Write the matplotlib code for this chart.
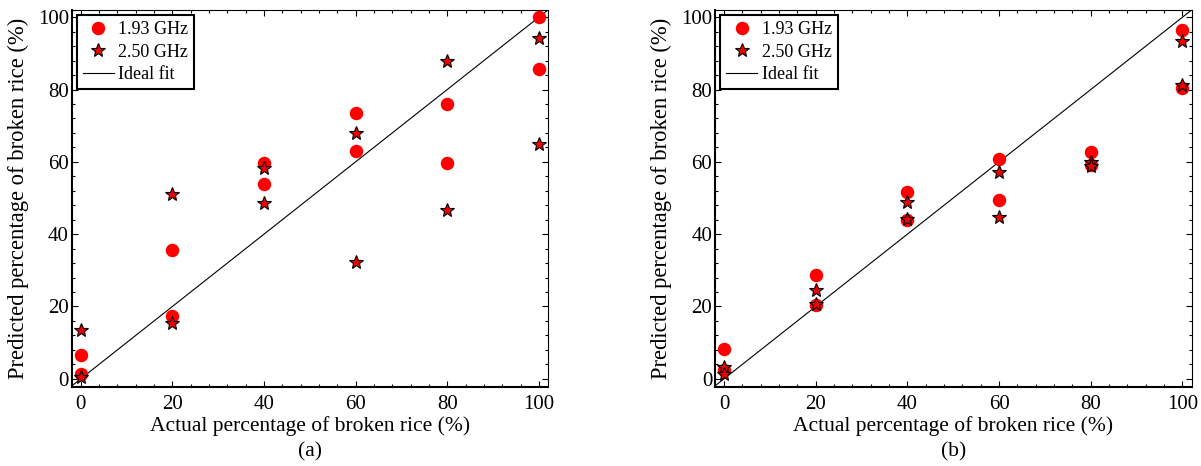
import numpy as np
import matplotlib
matplotlib.use("Agg")
import matplotlib.pyplot as plt
from matplotlib.ticker import MultipleLocator

plt.rcParams["font.family"] = ["Liberation Serif", "DejaVu Serif"]
plt.rcParams["mathtext.fontset"] = "stix"

# actual broken-rice levels, two samples per level
actual = [0, 0, 20, 20, 40, 40, 60, 60, 80, 80, 100, 100]

# panel (a)
pred_a_193 = [6.7, 1.2, 35.7, 17.3, 59.6, 53.9, 73.4, 63.0, 75.9, 59.7, 100.0, 85.7]
pred_a_250 = [13.6, 0.5, 51.2, 15.4, 58.2, 48.5, 67.9, 32.2, 87.9, 46.6, 94.2, 64.9]

# panel (b)
pred_b_193 = [8.3, 2.3, 28.6, 20.5, 51.7, 44.0, 60.8, 49.3, 62.8, 59.1, 96.5, 80.3]
pred_b_250 = [3.2, 1.2, 24.5, 20.6, 49.0, 44.3, 57.3, 44.6, 60.0, 58.9, 93.3, 81.3]

panels = [("(a)", pred_a_193, pred_a_250), ("(b)", pred_b_193, pred_b_250)]

fig = plt.figure(figsize=(12.01, 4.66), dpi=100)
axes = [fig.add_axes([0.0597, 0.1702, 0.3966, 0.8084]),
        fig.add_axes([0.5953, 0.1702, 0.3969, 0.8084])]

for ax, (tag, p193, p250) in zip(axes, panels):
    ax.plot(actual, p193, linestyle="none", marker="o", markersize=9.7,
            color="#ff0000", markeredgewidth=0, label="1.93 GHz", zorder=3)
    ax.plot(actual, p250, linestyle="none", marker="*", markersize=10,
            markerfacecolor="#ee0000", markeredgecolor="black",
            markeredgewidth=0.8, label="2.50 GHz", zorder=4)
    ax.plot([-5, 105], [-5, 105], color="black", linewidth=0.8,
            label="Ideal fit", zorder=2)

    ax.set_xlim(-2, 102)
    ax.set_ylim(-2.2, 102)
    ax.xaxis.set_major_locator(MultipleLocator(20))
    ax.yaxis.set_major_locator(MultipleLocator(20))
    ax.xaxis.set_minor_locator(MultipleLocator(4))
    ax.yaxis.set_minor_locator(MultipleLocator(4))
    ax.tick_params(which="both", direction="in", top=True, right=True,
                   labelsize=15, width=0.8)
    ax.tick_params(which="major", length=4.5)
    ax.tick_params(which="minor", length=2.2)
    ax.tick_params(axis="y", pad=2)
    ax.tick_params(axis="x", pad=6)
    for side in ["bottom", "left"]:
        ax.spines[side].set_linewidth(1.5)
    for side in ["top", "right"]:
        ax.spines[side].set_linewidth(0.8)

    ax.set_xlabel("Actual percentage of broken rice (%)", fontsize=15.5)
    ax.set_ylabel("Predicted percentage of broken rice (%)", fontsize=16.3)
    ax.xaxis.set_label_coords(0.5, -0.078)
    ax.yaxis.set_label_coords(-0.09, 0.5)
    ax.text(0.5, -0.148, tag, transform=ax.transAxes, ha="center", va="top",
            fontsize=15.5)

    leg = ax.legend(loc="upper left", numpoints=1, fontsize=13, fancybox=False,
                    framealpha=1, edgecolor="black", borderaxespad=0.3,
                    handlelength=1.7, handletextpad=0.25, borderpad=0.33,
                    labelspacing=0.3)
    leg.get_frame().set_linewidth(1.5)

fig.savefig("out.png", dpi=100)
